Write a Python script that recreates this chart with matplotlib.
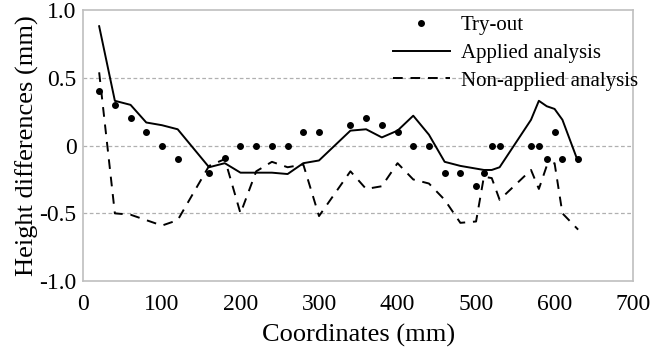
import matplotlib
matplotlib.use('Agg')
import matplotlib.pyplot as plt

# coordinates (mm) shared by try-out points and applied analysis
coords = [20, 40, 60, 80, 100, 120, 160, 180, 200, 220, 240, 260, 280, 300,
          340, 360, 380, 400, 420, 440, 460, 480, 500, 510, 520, 530,
          570, 580, 590, 600, 610, 630]
tryout = [0.40, 0.30, 0.20, 0.10, 0.0, -0.10, -0.20, -0.09, 0.0, 0.0, 0.0, 0.0, 0.10, 0.10,
          0.15, 0.20, 0.15, 0.10, 0.0, 0.0, -0.20, -0.20, -0.30, -0.20, 0.0, 0.0,
          0.0, 0.0, -0.10, 0.10, -0.10, -0.10]
applied = [0.88, 0.33, 0.30, 0.17, 0.15, 0.12, -0.16, -0.13, -0.20, -0.20, -0.20, -0.21, -0.13, -0.11,
           0.11, 0.12, 0.06, 0.11, 0.22, 0.08, -0.12, -0.15, -0.17, -0.18, -0.18, -0.16,
           0.19, 0.33, 0.29, 0.27, 0.19, -0.12]

nonapp_x = [20, 40, 60, 80, 100, 120, 160, 180, 200, 220, 240, 260, 280, 300,
            340, 360, 380, 400, 420, 440, 460, 480, 500, 510, 520, 530,
            570, 580, 590, 600, 610, 630]
nonapplied = [0.54, -0.50, -0.51, -0.55, -0.59, -0.55, -0.15, -0.10, -0.50, -0.19, -0.12, -0.16, -0.14, -0.52,
              -0.19, -0.32, -0.30, -0.13, -0.25, -0.28, -0.40, -0.57, -0.56, -0.23, -0.24, -0.40,
              -0.18, -0.32, -0.15, -0.13, -0.50, -0.62]

ytick_vals = [-1.0, -0.5, 0, 0.5, 1.0]
ytick_text = ['-1.0', '-0.5', '0', '0.5', '1.0']

plt.rcParams['font.family'] = ['Liberation Serif', 'DejaVu Serif']

fig = plt.figure(figsize=(6.52, 3.55), dpi=100)
ax = fig.add_axes([0.128, 0.208, 0.843, 0.764])

for y in [0.5, 0.0, -0.5]:
    ax.axhline(y, color='#b0b0b0', lw=0.9, ls=(0, (3, 2)), zorder=0)

ax.plot(coords, tryout, 'o', color='black', ms=4, label='Try-out')
ax.plot(coords, applied, '-', color='black', lw=1.4, label='Applied analysis')
ax.plot(nonapp_x, nonapplied, color='black', lw=1.4, ls=(0, (5, 4)), label='Non-applied analysis')

ax.set_xlim(0, 700)
ax.set_ylim(-1.0, 1.0)
ax.set_xticks(range(0, 701, 100))
ax.set_yticks(ytick_vals)
ax.set_yticklabels(ytick_text)
ax.tick_params(length=0, labelsize=17)
ax.tick_params(axis='y', pad=5)
ax.tick_params(axis='x', pad=9)
for s in ax.spines.values():
    s.set_color('#bfbfbf')
    s.set_linewidth(1.2)

ax.set_xlabel('Coordinates (mm)', fontsize=19, labelpad=7)
ax.set_ylabel('Height differences (mm)', fontsize=19, labelpad=0)

leg = ax.legend(loc='upper left', bbox_to_anchor=(0.563, 0.98), frameon=False,
                fontsize=15, handlelength=2.74, handletextpad=0.53, labelspacing=0.4,
                numpoints=1, borderaxespad=0, borderpad=0)

fig.savefig('out.png', dpi=100)
